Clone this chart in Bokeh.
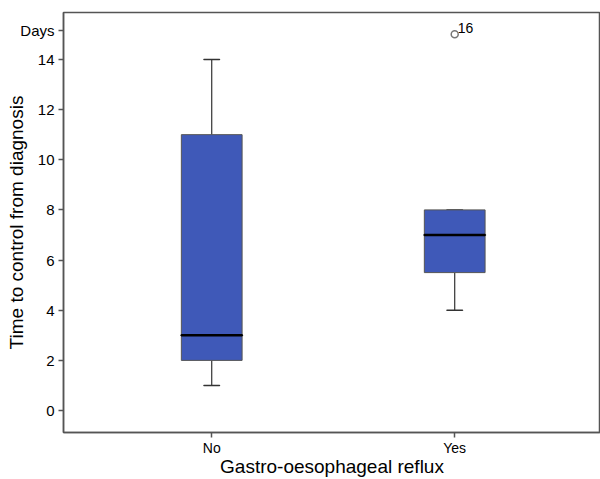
from bokeh.plotting import figure
from bokeh.models import ColumnDataSource, FixedTicker, Range1d
from bokeh.embed import file_html
from bokeh.resources import INLINE

categories = ["No", "Yes"]
positions = [1, 2]
q1 = [2, 5.5]
median = [3, 7]
q3 = [11, 8]
whisker_low = [1, 4]
whisker_high = [14, 8]
outlier_pos = [2]
outlier_val = [15]
outlier_lab = ["16"]
y_ticks = [0, 2, 4, 6, 8, 10, 12, 14]
unit_label = "Days"
unit_label_y = 15.15

FONT = "Liberation Sans"
BOX = "#3f59b8"
EDGE = "#555555"
X0 = 0.39

p = figure(width=600, height=479, output_backend="svg", toolbar_location=None,
           x_range=Range1d(X0, 2.6), y_range=Range1d(-0.875, 15.87),
           min_border_left=63, min_border_right=0, min_border_top=12, min_border_bottom=46)
p.grid.visible = False
p.outline_line_color = EDGE
p.outline_line_width = 1.5

src = ColumnDataSource(dict(x=positions, q1=q1, med=median, q3=q3, lo=whisker_low, hi=whisker_high))

p.segment(x0="x", y0="q3", x1="x", y1="hi", source=src, line_color="#333333", line_width=1.2)
p.segment(x0="x", y0="lo", x1="x", y1="q1", source=src, line_color="#333333", line_width=1.2)
p.rect(x="x", y="hi", width=0.065, height=0.0001, source=src, line_color="#333333", line_width=1.5)
p.rect(x="x", y="lo", width=0.065, height=0.0001, source=src, line_color="#333333", line_width=1.5)
p.vbar(x="x", bottom="q1", top="q3", width=0.25, source=src, fill_color=BOX, line_color=EDGE, line_width=1)
p.rect(x="x", y="med", width=0.25, height=0.0001, source=src, line_color="black", line_width=2.5)

osrc = ColumnDataSource(dict(x=outlier_pos, y=outlier_val, t=outlier_lab))
p.scatter(x="x", y="y", source=osrc, size=7, fill_color="white", line_color="#777777", line_width=1.5)
p.text(x="x", y="y", text="t", source=osrc, x_offset=3, y_offset=-1, text_font_size="14px",
       text_baseline="bottom", text_align="left", text_color="black", text_font={"value": FONT})

for ax in (p.xaxis[0], p.yaxis[0]):
    ax.axis_line_color = EDGE
    ax.axis_line_width = 1.5
    ax.major_tick_line_color = EDGE
    ax.major_tick_line_width = 1.5
    ax.major_tick_out = 5
    ax.major_tick_in = 0
    ax.minor_tick_line_color = None
    ax.major_label_text_font = FONT
    ax.major_label_text_color = "black"
    ax.axis_label_text_font = FONT
    ax.axis_label_text_font_size = "19px"
    ax.axis_label_text_font_style = "normal"
    ax.axis_label_text_color = "black"

p.yaxis.ticker = FixedTicker(ticks=y_ticks + [unit_label_y])
p.yaxis.major_label_overrides = {unit_label_y: unit_label}
p.yaxis.major_label_text_font_size = "15px"
p.yaxis.axis_label = "Time to control from diagnosis"
p.yaxis.major_label_standoff = 4
p.yaxis.axis_label_standoff = -10

p.xaxis.ticker = FixedTicker(ticks=positions)
p.xaxis.major_label_overrides = {pos: c for pos, c in zip(positions, categories)}
p.xaxis.major_label_text_font_size = "14px"
p.xaxis.axis_label = "Gastro-oesophageal reflux"
p.xaxis.major_label_standoff = 2
p.xaxis.axis_label_standoff = -3

open("out.html", "w").write(file_html(p, INLINE))
